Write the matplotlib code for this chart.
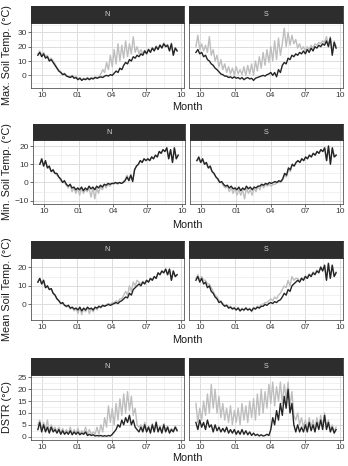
import matplotlib
matplotlib.use("Agg")
import matplotlib.pyplot as plt
import matplotlib.dates as mdates
import numpy as np
import pandas as pd

plt.rcParams['font.family'] = ['Liberation Sans', 'DejaVu Sans']

# ---------------- data ----------------
dates = pd.date_range('2016-09-20', periods=74, freq='5D')
facets = ['N', 'S']
ylabels = ['Max. Soil Temp. (°C)', 'Min. Soil Temp. (°C)',
           'Mean Soil Temp. (°C)', 'DSTR (°C)']
x_label = 'Month'
x_tick_dates = ['2016-10-01', '2017-01-01', '2017-04-01', '2017-07-01', '2017-10-01']
x_tick_labels = ['10', '01', '04', '07', '10']

nmax_dark = [14, 16, 13, 15, 12, 13, 10, 11, 9, 7,
             5, 3, 2, 0.5, 1, -0.5, -1, -1.5, -0.5, -2,
             -1.5, -3, -2, -3.5, -2.5, -3, -2, -3, -2, -2.5,
             -1.5, -2, -1.5, -1, -1.5, -0.5, 0, -0.5, 0.5, 0,
             1.5, 3, 2, 5, 4, 7, 9, 8, 11, 10,
             13, 12, 14, 13, 15, 14, 17, 15, 18, 16,
             19, 17, 20, 18, 21, 19, 22, 20, 21, 17,
             22, 14, 19, 17]
nmax_gray = [15, 17, 14, 16, 13, 14, 11, 12, 10, 8,
             5.5, 3.5, 2.5, 1, 1.5, 0, -0.5, -1, 0, -1.5,
             -1, -2.5, -1.5, -3, -2, -2.5, -1.5, -2.5, -1.5, -2,
             -1, -1.5, -1, 1, 4, 2, 9, 4, 14, 6,
             18, 8, 22, 10, 21, 12, 24, 13, 22, 15,
             27, 16, 20, 15, 18, 15, 17.5, 15.5, 18.5, 16.5,
             19.5, 17.5, 20.5, 18.5, 21.5, 19.5, 22.5, 20.5, 21.5, 17.5,
             22.5, 14.5, 19.5, 17.5]
smax_dark = [16, 18, 15, 16, 13, 14, 11, 10, 8, 7,
             5, 4, 2.5, 1, 0.5, -0.5, -0.5, -1.5, -1, -2,
             -1, -2, -1.5, -2.5, -1.5, -3, -2, -1.5, -2.5, -2,
             -3.5, -2, -1.5, -1, -0.5, 0, -0.5, 0.5, 1, 2,
             0, 2, -1, 4, 2, 7, 9, 8, 12, 11,
             14, 13, 15, 14, 16, 15, 17, 15, 18, 16,
             19, 17, 20, 19, 21, 20, 22, 21, 24, 20,
             26, 14, 23, 19]
smax_gray = [20, 28, 18, 22, 17, 21, 16, 27, 14, 18,
             10, 14, 6, 11, 4, 8, 2, 6, 1, 5,
             0.5, 6, 1, 4, 0.5, 6, 0, 7, 1, 8,
             0, 10, 3, 13, 5, 16, 7, 18, 9, 20,
             10, 24, 11, 26, 14, 22, 33, 20, 30, 21,
             28, 22, 25, 19, 22, 18, 20, 17, 20, 18,
             21, 19, 22, 21, 23, 22, 24, 23, 27, 21,
             27, 16, 24, 20]

nmin_dark = [10, 13, 9, 12, 8, 9, 6, 7, 5, 5,
             3, 2, 0, 1, -1, -2, -1, -3, -2.5, -4,
             -3, -4, -2.5, -4.5, -3, -4, -2, -3.5, -2.5, -4,
             -2, -3, -1.5, -2.5, -1, -1.5, -0.5, -1, -0.5, -0.5,
             0, -0.5, 0, -0.5, 0, 1, 3, 1, 4, 0.5,
             7, 9, 10, 12, 11, 13, 12, 13, 12, 14,
             13, 15, 14, 17, 16, 18, 17, 19, 13, 18,
             11, 19, 13, 15]
nmin_gray = [10, 12, 9, 11, 8, 8, 6, 6, 5, 4,
             3, 1, 0, 0, -1.5, -3, -1, -5, -3, -6,
             -3, -7, -3, -6, -4, -5, -3, -8, -3, -9,
             -3, -6, -2, -4, -1, -3, -1, -2, -0.5, -1,
             0, -1, 0, -0.5, 0.5, 1.5, 4, 1.5, 4.5, 1,
             7, 9, 10, 12, 11, 13, 12, 13, 12, 14,
             13, 15, 14, 17, 16, 18, 17, 19, 13, 18,
             11, 19, 13, 15]
smin_dark = [12, 14, 11, 13, 10, 11, 8, 9, 6, 5,
             3, 2, 0, 0.5, -1, -2, -1.5, -3, -2, -3.5,
             -3, -4, -2.5, -4.5, -3, -4, -2, -3.5, -2.5, -4,
             -2.5, -3, -2, -2, -1, -1.5, -0.5, -1, 0, -0.5,
             0, 0.5, 0, 1, 0.5, 2, 5, 4, 8, 7,
             10, 9, 11, 12, 11, 13, 12, 14, 13, 15,
             14, 16, 15, 17, 16, 18, 17, 19, 12, 20,
             10, 19, 14, 15]
smin_gray = [12, 13, 11, 12, 10, 10, 8, 8, 6, 4.5,
             3, 1.5, 0, 0, -2, -3, -2, -5, -3, -6,
             -3, -7, -4, -7, -4, -9, -3, -6, -4, -7,
             -3, -5, -2, -4, -1, -3, -1, -2, -1, -2,
             -1, -1, 0, 0, 0, 1.5, 4, 3, 7, 6,
             10, 9, 11, 12, 11, 13, 12, 14, 13, 15,
             14, 16, 15, 17, 16, 18, 17, 19, 12, 20,
             10, 19, 14, 15]

nmean_dark = [12, 14, 11, 13, 9, 10, 8, 8.5, 6, 5,
              3, 2, 0.5, 1, -0.5, -1, -0.5, -2, -1.5, -2.5,
              -2, -3, -1.5, -3.5, -2, -3, -1.5, -2.5, -2, -3,
              -1.5, -2, -1, -1.5, -0.5, -1, -0.5, 0, -0.5, 0,
              0.5, 1, 0.5, 1.5, 2, 3, 4, 3.5, 6, 5,
              8, 9, 10, 11, 10, 12, 11, 13, 12, 14,
              13, 15, 14, 17, 16, 18, 17, 19, 16, 19,
              13, 18, 15, 16]
nmean_gray = [12, 14, 11, 13, 9, 10, 8, 8.5, 6, 5,
              3, 2, 0.5, 0.5, -0.5, -1.5, -0.5, -2.5, -1.5, -3.5,
              -2, -5, -1.5, -5.5, -2, -4, -1.5, -5, -2, -4,
              -1.5, -3, -1, -2, -0.5, -1, 0, 0.5, 0, 1,
              1, 2, 1.5, 3, 3, 5, 7, 5, 10, 7,
              12, 10, 13, 12, 11, 12.5, 11.5, 13, 12, 14,
              13, 15, 14, 17, 16, 18, 17, 19, 16, 19,
              13, 18, 15, 16]
smean_dark = [13, 15, 12, 14, 11, 12, 9, 10, 7, 6,
              4, 3, 1, 1.5, 0, -1, -0.5, -2, -1.5, -2.5,
              -2, -3, -2, -3.5, -2.5, -3, -2, -3, -2.5, -3.5,
              -2, -2.5, -1.5, -2, -1, -1, 0, -0.5, 0.5, 1,
              0.5, 1.5, 1, 2, 2.5, 4, 6, 5, 8, 7,
              10, 11, 12, 13, 12, 14, 13, 15, 14, 16,
              15, 17, 16, 18, 17, 20, 18, 21, 13, 22,
              14, 21, 15, 17]
smean_gray = [14, 16, 13, 15, 13, 13, 11, 11, 9, 7,
              5, 4, 2, 2, 0.5, -0.5, 0, -1.5, -1, -2,
              -1.5, -3, -1.5, -3.5, -2, -3.5, -1.5, -3, -2, -4,
              -1.5, -2.5, -1, -1.5, 0, 0, 1, 1, 2, 3,
              2, 4, 3, 5, 6, 8, 10, 9, 13, 10,
              15, 13, 14, 14, 12.5, 14.5, 13.5, 15.5, 14.5, 16.5,
              15.5, 17.5, 16.5, 18.5, 17.5, 20.5, 18.5, 21.5, 13.5, 22.5,
              14.5, 21.5, 15.5, 17.5]

ndstr_dark = [3, 6, 2, 5, 2, 4, 1.5, 4, 2, 3,
              1.5, 3, 1, 2.5, 1, 2, 1, 2.5, 0.8, 2,
              1, 2, 0.8, 1.5, 1, 2, 0.5, 1, 0.5, 0.8,
              0.3, 0.5, 0.3, 0.5, 0.2, 0.4, 0.2, 0.5, 0.3, 1,
              2, 3, 5, 4, 7, 5, 8, 6, 9, 5,
              7, 4, 3, 2, 4, 2, 5, 2, 4, 1.5,
              5, 2, 6, 2, 4, 1.5, 5, 2, 4, 1.5,
              3, 2, 4, 2.5]
ndstr_gray = [5, 7, 3, 6, 3, 7, 2, 5, 3, 4,
              2, 4, 1.5, 3.5, 1.5, 3, 1.5, 4, 1, 3,
              1.5, 3.5, 1, 2.5, 1.5, 4, 1, 3, 1, 2,
              1, 4, 1, 5, 2, 8, 4, 13, 6, 12,
              5, 14, 7, 16, 9, 18, 10, 19, 11, 17,
              9, 12, 5, 4, 5, 3, 6, 2.5, 4.5, 2,
              5.5, 2.5, 6.5, 2.5, 4.5, 2, 5.5, 2.5, 4.5, 2,
              3.5, 2.5, 4.5, 3]
sdstr_dark = [6, 3, 7, 4, 6, 3, 7, 4, 5, 2,
              5, 2.5, 4, 2, 3.5, 2, 4, 1.5, 3, 1.5,
              3, 1, 2.5, 1, 3, 1, 2.5, 0.8, 2, 0.5,
              1.5, 0.5, 1, 0.3, 0.8, 0.3, 0.5, 1, 0.5, 3,
              8, 5, 11, 7, 14, 9, 17, 12, 20, 10,
              14, 5, 2, 5, 2, 4, 2, 5, 2, 6,
              2.5, 5, 2, 6, 3, 7, 3, 9, 3, 6,
              2, 4, 1.5, 3]
sdstr_gray = [14, 6, 12, 7, 15, 9, 18, 10, 22, 12,
              20, 10, 17, 8, 14, 7, 12, 6, 13, 5,
              11, 6, 12, 5, 14, 7, 13, 6, 15, 8,
              16, 7, 18, 9, 20, 10, 19, 12, 22, 14,
              23, 13, 21, 15, 23, 14, 22, 16, 23, 13,
              19, 9, 7, 10, 5, 8, 4, 7, 3, 8,
              4, 7, 3, 8, 4, 9, 4, 10, 4, 7,
              3, 5, 2, 4]

rows = [
    ([(nmax_gray, nmax_dark), (smax_gray, smax_dark)], (-8.8, 36.5), [0, 10, 20, 30], [-5, 5, 15, 25, 35]),
    ([(nmin_gray, nmin_dark), (smin_gray, smin_dark)], (-11.8, 23.3), [-10, 0, 10, 20], [-5, 5, 15]),
    ([(nmean_gray, nmean_dark), (smean_gray, smean_dark)], (-8.4, 25.0), [0, 10, 20], [-5, 5, 15, 25]),
    ([(ndstr_gray, ndstr_dark), (sdstr_gray, sdstr_dark)], (-1.4, 26.0), [0, 5, 10, 15, 20, 25], [2.5, 7.5, 12.5, 17.5, 22.5]),
]

# ---------------- layout ----------------
W, H = 348, 466
fig = plt.figure(figsize=(W / 100, H / 100), dpi=100)
fig.patch.set_facecolor('white')

def rect(x0, y0, x1, y1):
    return [x0 / W, 1 - y1 / H, (x1 - x0) / W, (y1 - y0) / H]

row_geom = [(6, 23, 88), (124, 140, 204), (241, 258, 320), (358, 375, 440)]
col_geom = [[(31, 184), (189, 343)], [(33, 185), (190, 343)],
            [(31, 184), (189, 343)], [(31, 184), (189, 343)]]
month_y = [107, 225, 340, 458]

xt = mdates.date2num(pd.to_datetime(x_tick_dates))
x_minor = (xt[:-1] + xt[1:]) / 2
xlim = (mdates.date2num(pd.Timestamp('2016-09-02')), mdates.date2num(pd.Timestamp('2017-10-08')))
xd = mdates.date2num(dates)

GRAY = '#BEBEBE'
DARK = '#242424'

for r, (series, ylim, yt, ym) in enumerate(rows):
    st, pt, pb = row_geom[r]
    for c in range(2):
        x0, x1 = col_geom[r][c]
        ax = fig.add_axes(rect(x0, pt, x1, pb))
        gray, dark = series[c]
        ax.plot(xd, gray, color=GRAY, lw=1.0, zorder=3)
        ax.plot(xd, dark, color=DARK, lw=1.0, zorder=4)
        ax.set_xlim(*xlim)
        ax.set_ylim(*ylim)
        ax.set_xticks(xt)
        ax.set_xticklabels(x_tick_labels)
        ax.set_xticks(x_minor, minor=True)
        ax.set_yticks(yt)
        ax.set_yticks(ym, minor=True)
        if c == 1:
            ax.set_yticklabels([])
        ax.grid(True, which='major', color='#DCDCDC', lw=0.7, zorder=0)
        ax.grid(True, which='minor', color='#EBEBEB', lw=0.5, zorder=0)
        ax.set_axisbelow(True)
        ax.tick_params(which='major', length=2, width=0.5, color='#333333',
                       labelsize=6.0, labelcolor='#3A3A3A', pad=1.2)
        if c == 1:
            ax.tick_params(axis='y', which='major', length=0)
        ax.tick_params(which='minor', length=0)
        for s in ax.spines.values():
            s.set_color('#555555')
            s.set_linewidth(0.6)
        # strip
        sx = fig.add_axes(rect(x0, st, x1, pt))
        sx.set_facecolor('#2D2D2D')
        sx.set_xticks([])
        sx.set_yticks([])
        for s in sx.spines.values():
            s.set_color('#2D2D2D')
            s.set_linewidth(0.6)
        sx.text(0.5, 0.5, facets[c], ha='center', va='center',
                fontsize=5.2, color='#D4D4D4', transform=sx.transAxes)
    fig.text(7 / W, 1 - ((pt + pb) / 2) / H, ylabels[r], rotation=90,
             ha='center', va='center', fontsize=7.8, color='#1A1A1A')
    fig.text(187 / W, 1 - month_y[r] / H, x_label, ha='center', va='center',
             fontsize=7.8, color='#1A1A1A')

fig.savefig('out.png', dpi=100, facecolor='white')
